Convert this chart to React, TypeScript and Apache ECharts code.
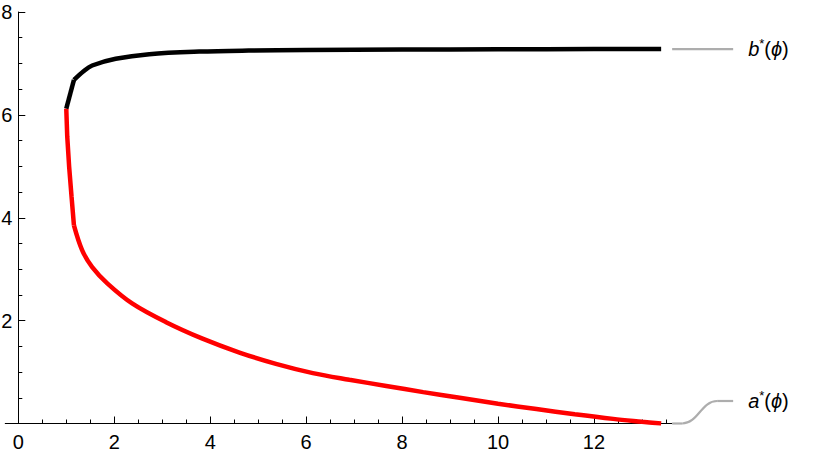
import React, { useEffect, useRef } from 'react';
import * as echarts from 'echarts';

// Tick positions
const xMajorTicks = [0, 2, 4, 6, 8, 10, 12];
const xMinorTicks = [0.5, 1, 1.5, 2.5, 3, 3.5, 4.5, 5, 5.5, 6.5, 7, 7.5, 8.5, 9, 9.5, 10.5, 11, 11.5, 12.5, 13, 13.5];

// b*(phi) curve (black)
const bSteep = [[1.0, 6.12], [1.16, 6.68]];
const bTail = [
  [1.16, 6.68], [1.36, 6.85], [1.54, 6.96], [2.03, 7.09], [2.73, 7.18], [3.77, 7.23],
  [4.8, 7.25], [6, 7.26], [8, 7.27], [10, 7.275], [12, 7.28], [13.4, 7.28],
];

// a*(phi) curve (red)
const aSteep = [[1.0, 6.12], [1.02, 5.58], [1.06, 4.99], [1.11, 4.41], [1.16, 3.85]];
const aTail = [
  [1.16, 3.85], [1.33, 3.37], [1.54, 3.04], [1.86, 2.72], [2.38, 2.33], [3.08, 1.97],
  [3.84, 1.65], [4.61, 1.38], [5.37, 1.16], [6.14, 0.98], [6.9, 0.85], [7.67, 0.73],
  [8.44, 0.61], [9.2, 0.5], [10.0, 0.385], [10.8, 0.28], [11.6, 0.18], [12.4, 0.09],
  [13.0, 0.035], [13.4, 0.0],
];

const FONT = '"Liberation Sans", Arial, sans-serif';

export default function App() {
  const ref = useRef<HTMLDivElement>(null);
  useEffect(() => {
    if (!ref.current) return;
    const chart = echarts.init(ref.current, undefined, { renderer: 'svg' });
    const xMin = 0;
    const xMax = 13.62;
    chart.setOption({
      animation: false,
      grid: { left: 18.3, right: 158.3, top: 12, bottom: 31.5, containLabel: false, outerBoundsMode: 'none' },
      xAxis: [
        {
          type: 'value', min: xMin, max: xMax, position: 'bottom',
          axisLine: { show: true, onZero: false, lineStyle: { color: '#000', width: 1 } },
          axisTick: { show: true, inside: true, length: 7, customValues: xMajorTicks, lineStyle: { color: '#000' } },
          axisLabel: { show: true, customValues: xMajorTicks, margin: 8, color: '#000', fontSize: 20, fontFamily: FONT },
          splitLine: { show: false },
        },
        {
          type: 'value', min: xMin, max: xMax, position: 'bottom',
          axisLine: { show: false, onZero: false },
          axisTick: { show: true, inside: true, length: 4, customValues: xMinorTicks, lineStyle: { color: '#000' } },
          axisLabel: { show: false },
          splitLine: { show: false },
        },
      ],
      yAxis: {
        type: 'value', min: 0, max: 8, interval: 2, position: 'left',
        axisLine: { show: true, onZero: false, lineStyle: { color: '#000', width: 1 } },
        axisTick: { show: true, inside: true, length: 7, lineStyle: { color: '#000' } },
        minorTick: { show: true, splitNumber: 4, length: 4, lineStyle: { color: '#000' } },
        axisLabel: { show: true, showMinLabel: false, margin: 6, color: '#000', fontSize: 20, fontFamily: FONT },
        splitLine: { show: false },
      },
      series: [
        { type: 'line', data: aSteep, showSymbol: false, lineStyle: { color: '#ff0000', width: 4.5 }, z: 2 },
        { type: 'line', data: aTail, showSymbol: false, smooth: 0.35, lineStyle: { color: '#ff0000', width: 4.5 }, z: 2 },
        { type: 'line', data: bSteep, showSymbol: false, lineStyle: { color: '#000000', width: 4.5 }, z: 3 },
        { type: 'line', data: bTail, showSymbol: false, smooth: 0.35, lineStyle: { color: '#000000', width: 4.5 }, z: 3 },
      ],
    });

    const bEnd = bTail[bTail.length - 1];
    const aEnd = aTail[aTail.length - 1];
    const pb = chart.convertToPixel({ xAxisIndex: 0, yAxisIndex: 0 }, bEnd) as number[];
    const pa = chart.convertToPixel({ xAxisIndex: 0, yAxisIndex: 0 }, aEnd) as number[];
    const p0 = chart.convertToPixel({ xAxisIndex: 0, yAxisIndex: 0 }, [0, 0]) as number[];
    const pl = chart.convertToPixel({ xAxisIndex: 0, yAxisIndex: 0 }, [-0.28, 0]) as number[];
    const gray = '#adadad';
    const rich = {
      it: { fontStyle: 'italic', fontSize: 20, fontFamily: FONT, fill: '#000', lineHeight: 24 },
      n: { fontSize: 20, fontFamily: FONT, fill: '#000', lineHeight: 24 },
      sup: { fontSize: 13, fontFamily: FONT, fill: '#000', lineHeight: 14, verticalAlign: 'top' },
    };
    const aRise = 22.5;
    chart.setOption({
      graphic: [
        { type: 'line', shape: { x1: pl[0], y1: p0[1], x2: p0[0], y2: p0[1] }, style: { stroke: '#000', lineWidth: 1 } },
        { type: 'line', shape: { x1: pb[0] + 11, y1: pb[1], x2: pb[0] + 72, y2: pb[1] }, style: { stroke: gray, lineWidth: 2.2 } },
        {
          type: 'text', x: pb[0] + 87, y: pb[1],
          style: { text: '{it|b}{sup|*}{n|(}{it|ϕ}{n|)}', rich, verticalAlign: 'middle', align: 'left' },
        },
        { type: 'line', shape: { x1: pa[0] + 11, y1: pa[1], x2: pa[0] + 21, y2: pa[1] }, style: { stroke: gray, lineWidth: 2.2 } },
        {
          type: 'bezierCurve',
          shape: { x1: pa[0] + 21, y1: pa[1], cpx1: pa[0] + 37, cpy1: pa[1], cpx2: pa[0] + 40, cpy2: pa[1] - aRise, x2: pa[0] + 56, y2: pa[1] - aRise },
          style: { stroke: gray, lineWidth: 2.2, fill: 'none' },
        },
        { type: 'line', shape: { x1: pa[0] + 56, y1: pa[1] - aRise, x2: pa[0] + 72, y2: pa[1] - aRise }, style: { stroke: gray, lineWidth: 2.2 } },
        {
          type: 'text', x: pa[0] + 87, y: pa[1] - aRise,
          style: { text: '{it|a}{sup|*}{n|(}{it|ϕ}{n|)}', rich, verticalAlign: 'middle', align: 'left' },
        },
      ],
    });
    return () => chart.dispose();
  }, []);
  return <div ref={ref} style={{ position: 'fixed', left: 0, top: 0, width: 830, height: 455, background: '#fff' }} />;
}
